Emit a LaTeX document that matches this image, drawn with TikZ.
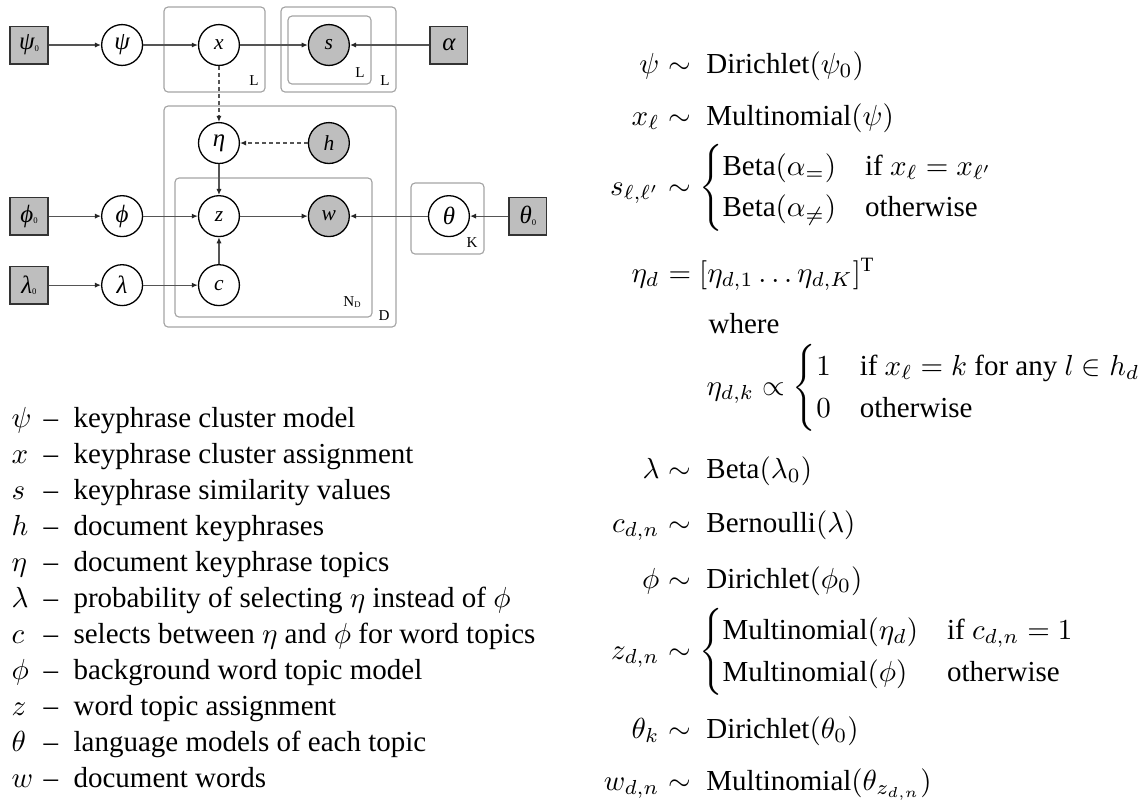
\documentclass[tikz,border=0pt]{standalone}
\usepackage{amsmath}
\usepackage[no-math]{fontspec}
\setmainfont{Liberation Serif}
\usetikzlibrary{arrows.meta,positioning}
\definecolor{obsGray}{RGB}{190,190,190}
\definecolor{plateGray}{RGB}{165,165,165}
\definecolor{edgeGray}{RGB}{85,85,85}
\newcommand{\nodefont}{\fontsize{7.4}{8}\selectfont\itshape}
\newcommand{\greekfont}{\fontsize{8.6}{9}\selectfont\itshape}
\newcommand{\platefont}{\fontsize{5.2}{6}\selectfont}
\newcommand{\zerosub}{\raisebox{-0.6pt}{\fontsize{3}{3}\selectfont\upshape 0}}
\tikzset{
  latent/.style={circle, draw=black, line width=0.45pt, fill=white, minimum size=14.1pt, inner sep=0pt, font=\nodefont},
  obs/.style={latent, fill=obsGray},
  hyper/.style={rectangle, draw=black!80, line width=0.45pt, fill=obsGray, minimum size=13pt, inner sep=0pt, font=\greekfont},
  greek/.style={font=\greekfont},
  plate/.style={draw=plateGray, line width=0.4pt, rounded corners=1.4pt},
  platelabel/.style={font=\platefont, inner sep=0pt},
  edge/.style={-{Latex[length=2.1pt,width=1.8pt,color=black!85]}, draw=edgeGray, line width=0.42pt},
  dedge/.style={edge, dash pattern=on 1.4pt off 1pt},
  lhs/.style={anchor=base east, inner sep=0pt},
  rhs/.style={anchor=base west, inner sep=0pt}
}
\begin{document}
\begin{tikzpicture}[x=0.3448pt, y=-0.3448pt, on grid]
  \useasboundingbox (0,0) rectangle (1141,804);
  % plates
  \draw[plate] (164,7) rectangle (265,92);
  \draw[plate] (281,7) rectangle (396,92);
  \draw[plate] (288,16) rectangle (371,84);
  \draw[plate] (164,106) rectangle (396,327);
  \draw[plate] (175,178) rectangle (372,317);
  \draw[plate] (411,183) rectangle (484,254);
  \node[platelabel] (plateLx) at (254,81) {L};
  \node[platelabel] (plateLin) at (360,73) {L};
  \node[platelabel] (plateLout) at (385,81) {L};
  \node[platelabel] (plateN) at (352,302) {N\raisebox{-0.5pt}{\fontsize{3}{3}\selectfont D}};
  \node[platelabel] (plateD) at (384,316) {D};
  \node[platelabel] (plateK) at (472,243) {K};
  % variables
  \node[hyper] (psi0) at (29,45) {ψ\zerosub};
  \node[latent, greek, right=32.1pt of psi0] (psi) {ψ};
  \node[latent, right=33.4pt of psi] (x) {x};
  \node[obs, right=37.9pt of x] (s) {s};
  \node[hyper, right=41.4pt of s] (alpha) {α};
  \node[latent, greek, below=33.8pt of x] (eta) {η};
  \node[obs, right=37.9pt of eta] (h) {h};
  \node[latent, below=25.2pt of eta] (z) {z};
  \node[obs, right=37.9pt of z] (w) {w};
  \node[latent, below=23.8pt of z] (c) {c};
  \node[latent, greek, left=33.4pt of z] (phi) {ϕ};
  \node[hyper, left=32.1pt of phi] (phi0) {ϕ\zerosub};
  \node[latent, greek, left=33.4pt of c] (lambda) {λ};
  \node[hyper, left=32.1pt of lambda] (lambda0) {λ\zerosub};
  \node[latent, greek, right=41.4pt of w] (theta) {θ};
  \node[hyper, right=27.2pt of theta] (theta0) {θ\zerosub};
  % edges
  \draw[edge] (psi0) -- (psi);
  \draw[edge] (psi) -- (x);
  \draw[edge] (x) -- (s);
  \draw[edge] (alpha) -- (s);
  \draw[dedge] (x) -- (eta);
  \draw[dedge] (h) -- (eta);
  \draw[edge] (eta) -- (z);
  \draw[edge] (phi0) -- (phi);
  \draw[edge] (phi) -- (z);
  \draw[edge] (z) -- (w);
  \draw[edge] (theta) -- (w);
  \draw[edge] (theta0) -- (theta);
  \draw[edge] (lambda0) -- (lambda);
  \draw[edge] (lambda) -- (c);
  \draw[edge] (c) -- (z);
  % legend
  \foreach \i/\sym/\desc in {0/\psi/{keyphrase cluster model},
      1/x/{keyphrase cluster assignment},
      2/s/{keyphrase similarity values},
      3/h/{document keyphrases},
      4/\eta/{document keyphrase topics},
      5/\lambda/{probability of selecting $\eta$ instead of $\phi$},
      6/c/{selects between $\eta$ and $\phi$ for word topics},
      7/\phi/{background word topic model},
      8/z/{word topic assignment},
      9/\theta/{language models of each topic},
      10/w/{document words}}{
    \node[rhs] (sym\i) at (11,{427+36*\i}) {$\sym$};
    \node[rhs] (dash\i) at (43,{427+36*\i}) {--};
    \node[rhs] (leg\i) at (73,{427+36*\i}) {\desc};
  }
  % equations
  \node[lhs] (eqPsiL) at (660,73) {$\psi$};
  \node[rhs] (eqPsiR) at (668,73) {$\sim\ \text{Dirichlet}(\psi_0)$};
  \node[lhs] (eqXL) at (660,125) {$x_\ell$};
  \node[rhs] (eqXR) at (668,125) {$\sim\ \text{Multinomial}(\psi)$};
  \node[lhs] (eqSL) at (660,195) {$s_{\ell,\ell'}$};
  \node[rhs] (eqSR) at (668,195) {$\sim \begin{cases}\text{Beta}(\alpha_=) & \text{if } x_\ell = x_{\ell'}\\ \text{Beta}(\alpha_{\neq}) & \text{otherwise}\end{cases}$};
  \node[lhs] (eqEtaL) at (660,282) {$\eta_d$};
  \node[rhs] (eqEtaR) at (668,282) {$= [\eta_{d,1} \ldots \eta_{d,K}]^{\text{T}}$};
  \node[rhs] (eqWhere) at (708,333) {where};
  \node[rhs] (eqEtaK) at (706,395) {$\eta_{d,k} \propto \begin{cases}1 & \text{if } x_\ell = k \text{ for any } l \in h_d\\ 0 & \text{otherwise}\end{cases}$};
  \node[lhs] (eqLamL) at (660,478) {$\lambda$};
  \node[rhs] (eqLamR) at (668,478) {$\sim\ \text{Beta}(\lambda_0)$};
  \node[lhs] (eqCL) at (660,532) {$c_{d,n}$};
  \node[rhs] (eqCR) at (668,532) {$\sim\ \text{Bernoulli}(\lambda)$};
  \node[lhs] (eqPhiL) at (660,588) {$\phi$};
  \node[rhs] (eqPhiR) at (668,588) {$\sim\ \text{Dirichlet}(\phi_0)$};
  \node[lhs] (eqZL) at (660,659) {$z_{d,n}$};
  \node[rhs] (eqZR) at (668,659) {$\sim \begin{cases}\text{Multinomial}(\eta_d) & \text{if } c_{d,n} = 1\\ \text{Multinomial}(\phi) & \text{otherwise}\end{cases}$};
  \node[lhs] (eqThL) at (660,738) {$\theta_k$};
  \node[rhs] (eqThR) at (668,738) {$\sim\ \text{Dirichlet}(\theta_0)$};
  \node[lhs] (eqWL) at (660,790) {$w_{d,n}$};
  \node[rhs] (eqWR) at (668,790) {$\sim\ \text{Multinomial}(\theta_{z_{d,n}})$};
\end{tikzpicture}
\end{document}
